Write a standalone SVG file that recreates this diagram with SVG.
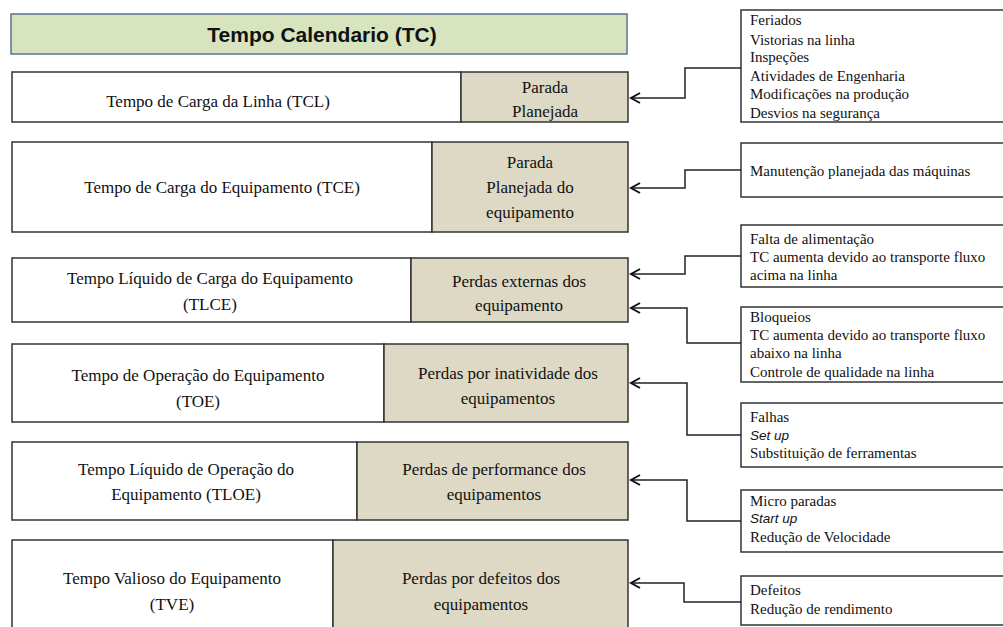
<svg xmlns="http://www.w3.org/2000/svg" width="1003" height="627" viewBox="0 0 1003 627">
<defs>
<marker id="arr" markerWidth="12" markerHeight="12" refX="10" refY="6" orient="auto" markerUnits="userSpaceOnUse">
<path d="M1,1 L10,6 L1,11" fill="none" stroke="#111" stroke-width="2"/>
</marker>
<style>
.w{fill:#fff;stroke:#333;stroke-width:1.5}
.t{fill:#ddd9c4;stroke:#333;stroke-width:1.5}
.m{font-family:"Liberation Serif",serif;font-size:17px;fill:#111;text-anchor:middle}
.s{font-family:"Liberation Serif",serif;font-size:15px;fill:#111}
.i{font-family:"Liberation Sans",sans-serif;font-size:13.5px;font-style:italic;fill:#111}
.c{fill:none;stroke:#222;stroke-width:1.5}
.b{fill:#fff;stroke:#333;stroke-width:1.5}
</style>
</defs>
<rect width="1003" height="627" fill="#fff"/>
<g id="title">
<rect x="11" y="14" width="616" height="40" fill="#d7e4bd" stroke="#5a7396" stroke-width="1.5"/>
<text x="322" y="42" font-family="Liberation Sans,sans-serif" font-weight="bold" font-size="21" text-anchor="middle" fill="#111">Tempo Calendario (TC)</text>
</g>
<g id="tcl">
<rect class="w" x="12" y="72" width="449" height="50"/>
<rect class="t" x="461" y="72" width="167" height="50"/>
<text class="m" x="218" y="107">Tempo de Carga da Linha (TCL)</text>
<text class="m" x="545" y="93">Parada</text>
<text class="m" x="545" y="117">Planejada</text>
</g>
<g id="tce">
<rect class="w" x="12" y="142" width="420" height="90"/>
<rect class="t" x="432" y="142" width="196" height="90"/>
<text class="m" x="222" y="193">Tempo de Carga do Equipamento (TCE)</text>
<text class="m" x="530" y="168">Parada</text>
<text class="m" x="530" y="193">Planejada do</text>
<text class="m" x="530" y="218">equipamento</text>
</g>
<g id="tlce">
<rect class="w" x="12" y="258" width="399" height="64"/>
<rect class="t" x="411" y="258" width="217" height="64"/>
<text class="m" x="210" y="284">Tempo Líquido de Carga do Equipamento</text>
<text class="m" x="210" y="310">(TLCE)</text>
<text class="m" x="519" y="287">Perdas externas dos</text>
<text class="m" x="519" y="311">equipamento</text>
</g>
<g id="toe">
<rect class="w" x="12" y="344" width="372" height="78"/>
<rect class="t" x="384" y="344" width="244" height="78"/>
<text class="m" x="198" y="381">Tempo de Operação do Equipamento</text>
<text class="m" x="198" y="407">(TOE)</text>
<text class="m" x="508" y="379">Perdas por inatividade dos</text>
<text class="m" x="508" y="404">equipamentos</text>
</g>
<g id="tloe">
<rect class="w" x="12" y="442" width="345" height="78"/>
<rect class="t" x="357" y="442" width="271" height="78"/>
<text class="m" x="186" y="475">Tempo Líquido de Operação do</text>
<text class="m" x="186" y="500">Equipamento (TLOE)</text>
<text class="m" x="494" y="475">Perdas de performance dos</text>
<text class="m" x="494" y="500">equipamentos</text>
</g>
<g id="tve">
<rect class="w" x="12" y="540" width="321" height="90"/>
<rect class="t" x="333" y="540" width="295" height="90"/>
<text class="m" x="172" y="584">Tempo Valioso do Equipamento</text>
<text class="m" x="172" y="610">(TVE)</text>
<text class="m" x="481" y="584">Perdas por defeitos dos</text>
<text class="m" x="481" y="610">equipamentos</text>
</g>
<g id="box1">
<rect class="b" x="741" y="10" width="270" height="112"/>
<text class="s" x="750" y="25">Feriados</text>
<text class="s" x="750" y="45">Vistorias na linha</text>
<text class="s" x="750" y="62">Inspeções</text>
<text class="s" x="750" y="81">Atividades de Engenharia</text>
<text class="s" x="750" y="99">Modificações na produção</text>
<text class="s" x="750" y="118">Desvios na segurança</text>
</g>
<g id="box2">
<rect class="b" x="741" y="143" width="270" height="54"/>
<text class="s" x="750" y="176">Manutenção planejada das máquinas</text>
</g>
<g id="box3">
<rect class="b" x="741" y="225" width="270" height="62"/>
<text class="s" x="750" y="244">Falta de alimentação</text>
<text class="s" x="750" y="262">TC aumenta devido ao transporte fluxo</text>
<text class="s" x="750" y="280">acima na linha</text>
</g>
<g id="box4">
<rect class="b" x="741" y="307" width="270" height="75"/>
<text class="s" x="750" y="322">Bloqueios</text>
<text class="s" x="750" y="340">TC aumenta devido ao transporte fluxo</text>
<text class="s" x="750" y="358">abaixo na linha</text>
<text class="s" x="750" y="377">Controle de qualidade na linha</text>
</g>
<g id="box5">
<rect class="b" x="741" y="403" width="270" height="64"/>
<text class="s" x="750" y="422">Falhas</text>
<text class="i" x="750" y="440">Set up</text>
<text class="s" x="750" y="458">Substituição de ferramentas</text>
</g>
<g id="box6">
<rect class="b" x="741" y="490" width="270" height="62"/>
<text class="s" x="750" y="506">Micro paradas</text>
<text class="i" x="750" y="523">Start up</text>
<text class="s" x="750" y="542">Redução de Velocidade</text>
</g>
<g id="box7">
<rect class="b" x="741" y="576" width="270" height="49"/>
<text class="s" x="750" y="595">Defeitos</text>
<text class="s" x="750" y="614">Redução de rendimento</text>
</g>
<g id="connectors">
<path class="c" d="M741,68 H685 V98 H631" marker-end="url(#arr)"/>
<path class="c" d="M741,170 H685 V188 H631" marker-end="url(#arr)"/>
<path class="c" d="M741,256 H685 V274 H631" marker-end="url(#arr)"/>
<path class="c" d="M741,343 H687 V308 H631" marker-end="url(#arr)"/>
<path class="c" d="M741,435 H687 V383 H631" marker-end="url(#arr)"/>
<path class="c" d="M741,521 H687 V480 H631" marker-end="url(#arr)"/>
<path class="c" d="M741,602 H684 V583 H631" marker-end="url(#arr)"/>
</g>
</svg>
